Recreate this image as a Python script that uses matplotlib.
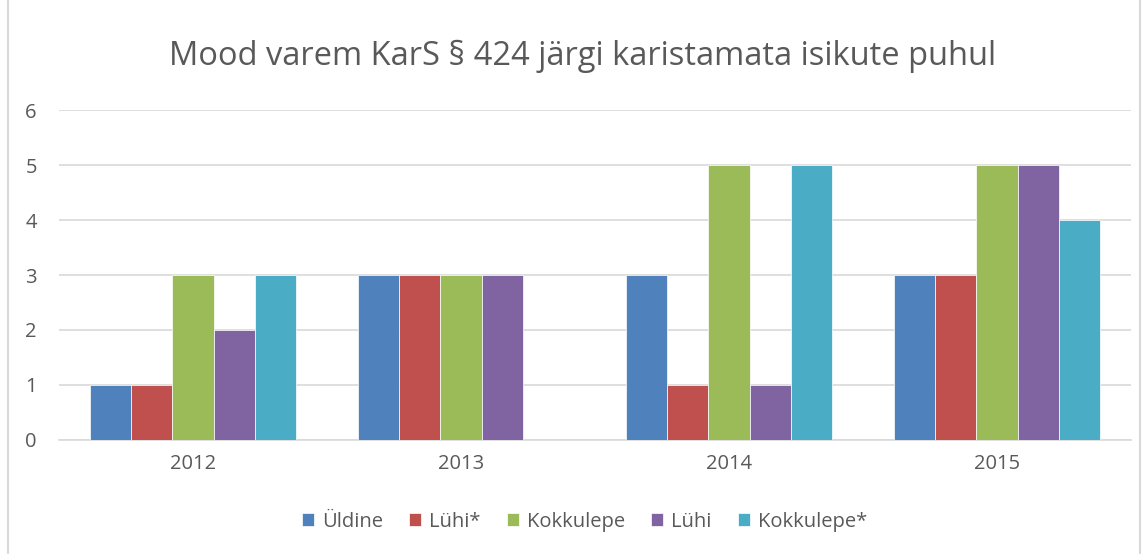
import matplotlib.pyplot as plt
from matplotlib.patches import Rectangle
import numpy as np

years = ["2012", "2013", "2014", "2015"]
series = ["Üldine", "Lühi*", "Kokkulepe", "Lühi", "Kokkulepe*"]
yldine = [1, 3, 3, 3]
lyhi_t = [1, 3, 1, 3]
kokkulepe = [3, 3, 5, 5]
lyhi = [2, 3, 1, 5]
kokkulepe_t = [3, 0, 5, 4]
values = [yldine, lyhi_t, kokkulepe, lyhi, kokkulepe_t]
colors = ["#4F81BD", "#C0504D", "#9BBB59", "#8064A2", "#4BACC6"]

plt.rcParams['font.family'] = ['Open Sans', 'DejaVu Sans']
txt = "#595959"

fig = plt.figure(figsize=(11.46, 5.54), dpi=100)
ax = fig.add_axes([0.0515, 0.2058, 0.9355, 0.5956])

x = np.arange(len(years))
w = 0.154
for i, (name, vals) in enumerate(zip(series, values)):
    ax.bar(x + (i - 2) * w, vals, w, color=colors[i], label=name,
           edgecolor="white", linewidth=0.5, zorder=3)

ax.set_xlim(-0.5, 3.5)
ax.set_ylim(0, 6)
ax.set_yticks(range(7))
ax.set_xticks(x)
ax.set_xticklabels(years)
ax.grid(axis="y", color="#D9D9D9", linewidth=1.2, zorder=0)
for s in ["top", "right", "left"]:
    ax.spines[s].set_visible(False)
ax.spines["bottom"].set_color("#D9D9D9")
ax.spines["bottom"].set_linewidth(1.2)
ax.tick_params(length=0, colors=txt, labelsize=14.5)
ax.tick_params(axis="y", pad=16)
ax.tick_params(axis="x", pad=10)

fig.text(0.508, 0.898, "Mood varem KarS § 424 järgi karistamata isikute puhul",
         ha="center", va="center", fontsize=23.5, color=txt)

fig.legend(loc="center", bbox_to_anchor=(0.51, 0.058), ncol=5, frameon=False,
           fontsize=14.5, labelcolor=txt, handlelength=0.6, handleheight=0.6,
           handletextpad=0.4, columnspacing=1.3)

fig.patches.append(Rectangle((0.007, -0.01), 0.988, 1.02, transform=fig.transFigure,
                             fill=False, edgecolor="#D9D9D9", linewidth=1.5))

fig.savefig("out.png", dpi=100)
